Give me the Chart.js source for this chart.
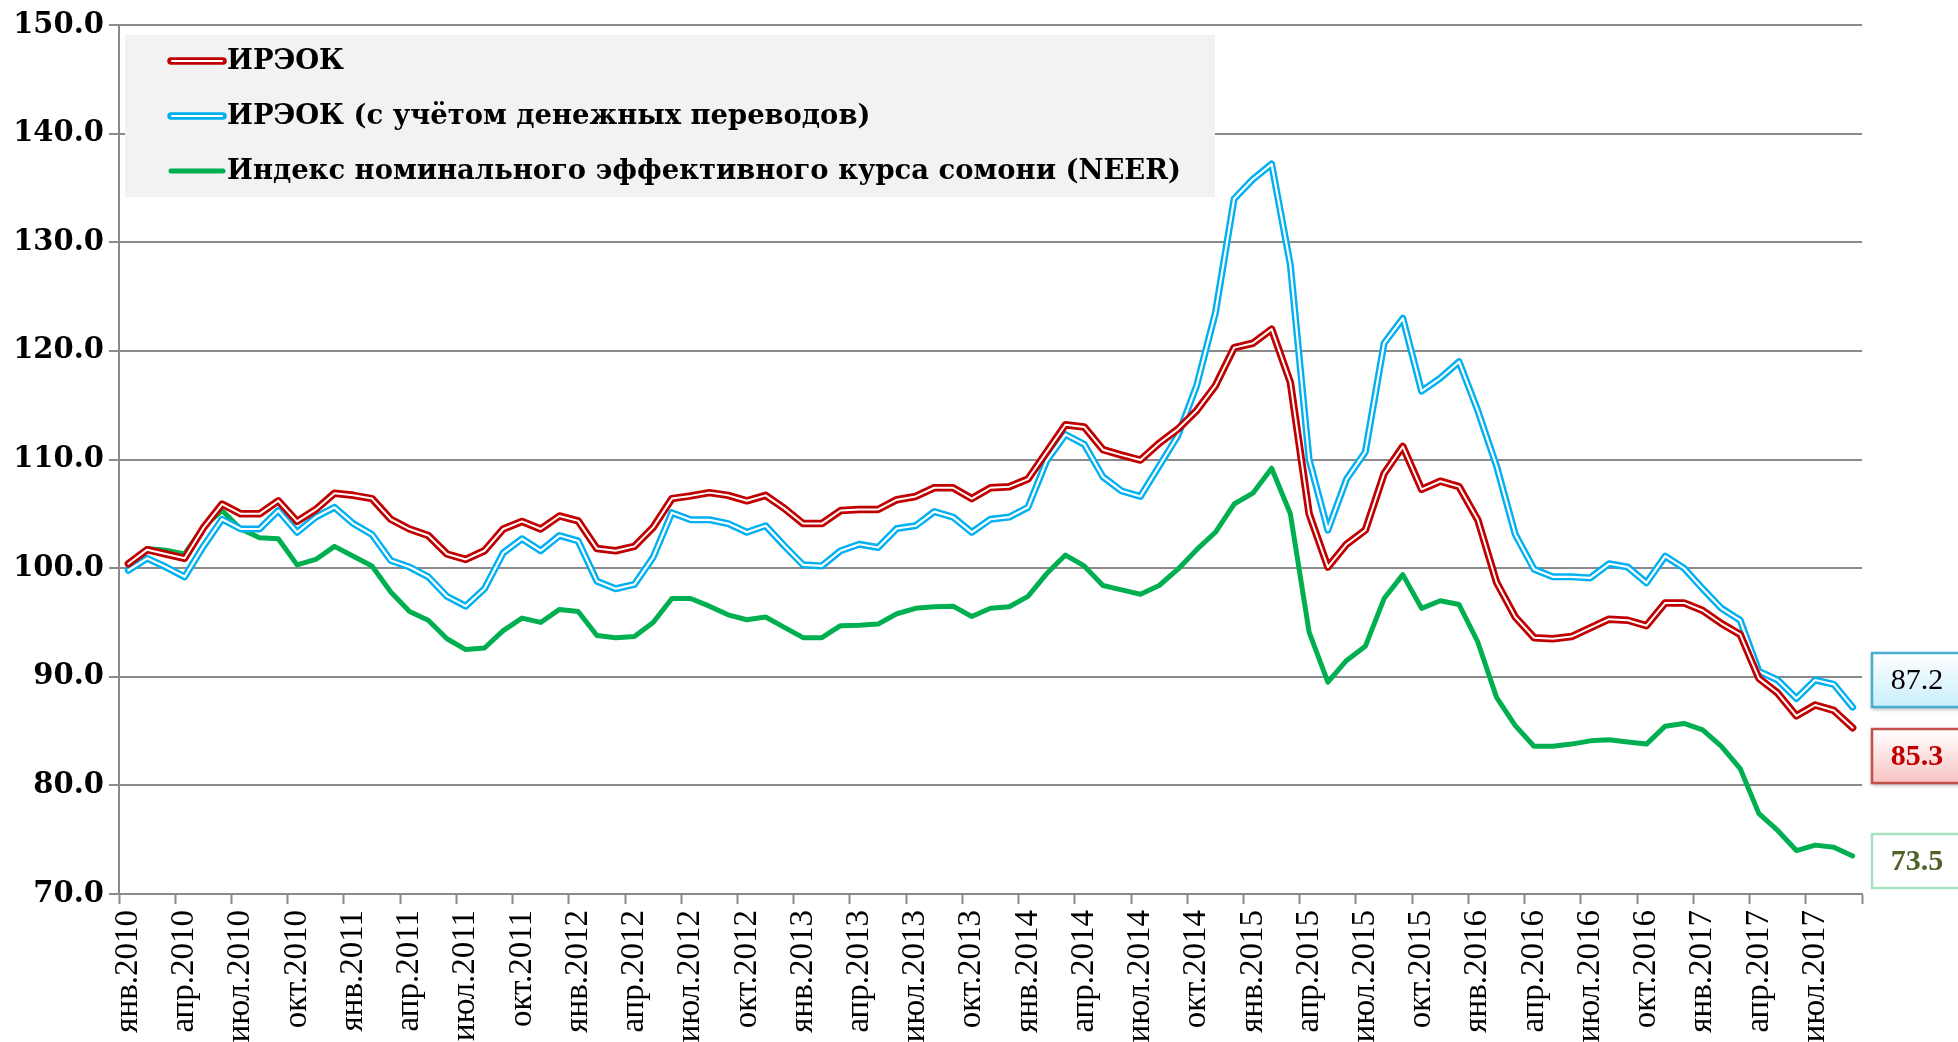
<!DOCTYPE html>
<html><head><meta charset="utf-8">
<script src="https://cdn.jsdelivr.net/npm/chart.js@4.4.0/dist/chart.umd.min.js"></script>
<style>html,body{margin:0;padding:0;background:#fff;overflow:hidden}canvas{display:block}</style>
</head><body>
<canvas id="c" width="1958" height="1042"></canvas>
<script>
// ---- data ----
const monthNames = ['янв','фев','мар','апр','май','июн','июл','авг','сен','окт','ноя','дек'];
const startYear = 2010;
const monthCount = 93; // янв.2010 .. сен.2017
const categories = [];
for (let k = 0; k < monthCount; k++) categories.push(monthNames[k % 12] + '.' + (startYear + Math.floor(k / 12)));

const seriesNames = ['ИРЭОК', 'ИРЭОК (с учётом денежных переводов)', 'Индекс номинального эффективного курса сомони (NEER)'];

const ireok = [
  100.4,101.7,101.3,100.9,103.7,105.9,105.0,105.0,106.2,104.3,105.4,106.9,
  106.7,106.4,104.5,103.6,103.0,101.3,100.8,101.6,103.6,104.3,103.6,104.8,
  104.35,101.8,101.6,102.0,103.75,106.4,106.65,106.95,106.7,106.2,106.7,105.5,
  104.1,104.1,105.3,105.4,105.4,106.3,106.6,107.4,107.4,106.4,107.4,107.5,
  108.2,110.7,113.2,113.0,110.9,110.4,109.95,111.5,112.8,114.5,116.8,120.3,
  120.7,122.0,117.1,105.0,100.1,102.2,103.5,108.7,111.2,107.25,108.0,107.5,
  104.45,98.7,95.5,93.6,93.5,93.7,94.5,95.3,95.2,94.7,96.8,96.8,
  96.1,94.9,93.9,89.85,88.5,86.4,87.4,86.9,85.3
];
const ireokRemit = [
  99.8,100.9,100.1,99.2,102.0,104.5,103.6,103.6,105.3,103.3,104.7,105.6,
  104.1,103.1,100.7,100.1,99.2,97.4,96.5,98.1,101.4,102.7,101.6,103.0,
  102.5,98.8,98.1,98.5,101.0,105.1,104.45,104.45,104.1,103.3,103.9,102.05,
  100.3,100.2,101.6,102.2,101.9,103.65,103.9,105.2,104.7,103.3,104.5,104.7,
  105.6,109.9,112.3,111.4,108.4,107.1,106.6,109.4,112.2,116.8,123.5,134.0,
  135.8,137.2,127.9,110.0,103.5,108.2,110.7,120.7,123.0,116.3,117.5,119.0,
  114.5,109.4,103.1,99.9,99.2,99.2,99.1,100.4,100.1,98.65,101.1,100.0,
  98.1,96.3,95.2,90.5,89.7,88.0,89.7,89.3,87.2
];
const neer = [
  100.2,101.8,101.65,101.3,103.8,105.3,103.6,102.8,102.7,100.3,100.8,102.0,
  101.1,100.2,97.8,96.0,95.2,93.5,92.5,92.65,94.25,95.4,95.0,96.2,
  96.0,93.8,93.6,93.7,95.0,97.2,97.2,96.5,95.7,95.25,95.5,94.55,
  93.6,93.6,94.7,94.75,94.85,95.8,96.3,96.45,96.5,95.55,96.3,96.45,
  97.4,99.5,101.2,100.2,98.4,98.0,97.6,98.4,99.9,101.7,103.3,105.9,
  106.9,109.2,105.0,94.1,89.5,91.5,92.8,97.2,99.4,96.3,97.0,96.65,
  93.2,88.1,85.5,83.6,83.6,83.8,84.1,84.2,84.0,83.8,85.45,85.7,
  85.1,83.6,81.55,77.4,75.85,74.0,74.5,74.3,73.5
];
const yMin = 70, yMax = 150, yStep = 10;
const labelEvery = 3;

// ---- styles ----
const RED = '#c00000', BLUE = '#00b0f0', GREEN = '#00b050', GRID = '#8a8a8a';
const WIDE_SERIF = "'DejaVu Serif', 'Liberation Serif', serif";
const SERIF = "'Liberation Serif', 'Times New Roman', serif";

const legendItems = [
  {text: seriesNames[0], color: RED, double: true},
  {text: seriesNames[1], color: BLUE, double: true},
  {text: seriesNames[2], color: GREEN, double: false}
];
const valueBoxes = [
  {value: ireokRemit[ireokRemit.length - 1], top: 653, border: '#4aaed0', grad: '#c9eefb', text: '#000000', bold: false, shadow: true},
  {value: ireok[ireok.length - 1], top: 729, border: '#c0504d', grad: '#f9c3c3', text: RED, bold: true, shadow: true},
  {value: neer[neer.length - 1], top: 834, border: '#a8e2c2', grad: '#ffffff', text: '#4f6228', bold: true, shadow: false}
];

const annot = {
  id: 'annot',
  beforeDatasetsDraw(chart) {
    const ctx = chart.ctx;
    ctx.save();
    ctx.fillStyle = '#f2f2f2';
    ctx.fillRect(125, 35, 1090, 162);
    legendItems.forEach((it, k) => {
      const y = 61 + k * 55;
      ctx.lineCap = 'round';
      ctx.strokeStyle = it.color;
      ctx.lineWidth = it.double ? 7.5 : 5;
      ctx.beginPath(); ctx.moveTo(171, y); ctx.lineTo(223, y); ctx.stroke();
      if (it.double) {
        ctx.strokeStyle = '#ffffff'; ctx.lineWidth = 2;
        ctx.beginPath(); ctx.moveTo(172, y); ctx.lineTo(222, y); ctx.stroke();
      }
      ctx.fillStyle = '#000';
      ctx.font = 'bold 27.4px ' + WIDE_SERIF;
      ctx.textBaseline = 'middle';
      ctx.textAlign = 'left';
      ctx.fillText(it.text, 227, y + 1);
    });
    ctx.restore();
  },
  afterDraw(chart) {
    const ctx = chart.ctx;
    valueBoxes.forEach(b => {
      ctx.save();
      const x = 1872, w = 110, h = 54, y = b.top;
      const g = ctx.createLinearGradient(0, y, 0, y + h);
      g.addColorStop(0, '#ffffff'); g.addColorStop(1, b.grad);
      if (b.shadow) { ctx.shadowColor = 'rgba(0,0,0,0.35)'; ctx.shadowBlur = 4; ctx.shadowOffsetY = 2; }
      ctx.fillStyle = g; ctx.fillRect(x, y, w, h);
      ctx.shadowColor = 'transparent';
      ctx.strokeStyle = b.border; ctx.lineWidth = 2.5;
      ctx.strokeRect(x, y, w, h);
      ctx.fillStyle = b.text;
      ctx.font = (b.bold ? 'bold ' : '') + '30px ' + SERIF;
      ctx.textAlign = 'center'; ctx.textBaseline = 'middle';
      ctx.fillText(b.value.toFixed(1), 1917, y + h / 2 + 1);
      ctx.restore();
    });
  }
};

new Chart(document.getElementById('c'), {
  type: 'line',
  data: {
    labels: categories,
    datasets: [
      {label: seriesNames[0], data: ireok, borderColor: RED, borderWidth: 7.5, order: 1},
      {label: '', data: ireok, borderColor: '#ffffff', borderWidth: 2, order: 0},
      {label: seriesNames[1], data: ireokRemit, borderColor: BLUE, borderWidth: 7, order: 3},
      {label: '', data: ireokRemit, borderColor: '#ffffff', borderWidth: 2.2, order: 2},
      {label: seriesNames[2], data: neer, borderColor: GREEN, borderWidth: 5, order: 4}
    ]
  },
  options: {
    responsive: false,
    animation: false,
    devicePixelRatio: 1,
    layout: {padding: {left: 0, right: 96, top: 25, bottom: 0}},
    elements: {
      point: {radius: 0, hoverRadius: 0},
      line: {tension: 0, borderJoinStyle: 'round', borderCapStyle: 'round', fill: false}
    },
    plugins: {legend: {display: false}, tooltip: {enabled: false}},
    scales: {
      x: {
        type: 'category',
        offset: true,
        grid: {
          offset: true, drawOnChartArea: false, drawTicks: true, tickLength: 10, tickWidth: 2,
          tickColor: c => (c.index === undefined || c.index % labelEvery === 0) ? GRID : 'rgba(0,0,0,0)'
        },
        border: {display: true, color: GRID, width: 2},
        ticks: {
          autoSkip: false, maxRotation: 90, minRotation: 90, padding: 6, color: '#000',
          font: {family: SERIF, size: 33},
          callback: (v, i) => i % labelEvery === 0 ? categories[i] : ''
        },
        afterFit(s) { s.height = 148; }
      },
      y: {
        min: yMin, max: yMax,
        ticks: {stepSize: yStep, callback: v => Number(v).toFixed(1), color: '#000',
                font: {family: WIDE_SERIF, size: 29, weight: 'bold'}, padding: 5},
        grid: {color: GRID, lineWidth: 2, tickLength: 10, drawTicks: true},
        border: {display: true, color: GRID, width: 2},
        afterFit(s) { s.width = 119; }
      }
    }
  },
  plugins: [annot]
});
</script>
</body></html>
